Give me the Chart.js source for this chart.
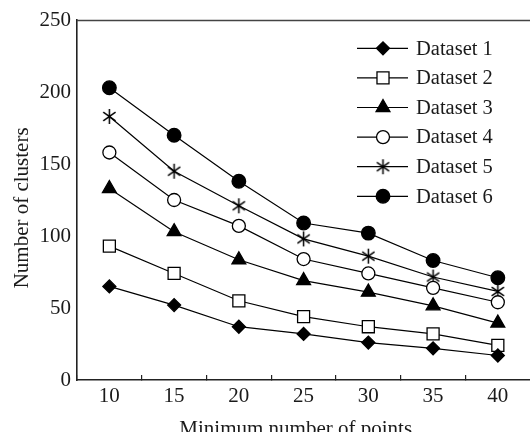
<!DOCTYPE html>
<html>
<head>
<meta charset="utf-8">
<script src="https://cdn.jsdelivr.net/npm/chart.js@4/dist/chart.umd.min.js"></script>
<style>
  html, body { margin: 0; padding: 0; background: #fff; }
  #wrap { width: 530px; height: 432px; overflow: hidden; position: relative; }
  #c { display: block; }
</style>
</head>
<body>
<div id="wrap"><canvas id="c" width="540" height="440"></canvas></div>
<script>
// ---- data ----
const minPoints = ['10', '15', '20', '25', '30', '35', '40'];
const seriesNames = ['Dataset 1', 'Dataset 2', 'Dataset 3', 'Dataset 4', 'Dataset 5', 'Dataset 6'];
const dataset1 = [65, 52, 37, 32, 26, 22, 17];
const dataset2 = [93, 74, 55, 44, 37, 32, 24];
const dataset3 = [133, 103, 83.5, 69, 61, 51.5, 39.5];
const dataset4 = [158, 125, 107, 84, 74, 64, 54];
const dataset5 = [183, 145, 121, 98, 86, 71.5, 61.5];
const dataset6 = [203, 170, 138, 109, 102, 83, 71];
const yTicks = [0, 50, 100, 150, 200, 250];

const SERIF = "'Liberation Serif', 'Times New Roman', Times, serif";

// asterisk marker (vertical + two diagonals)
function makeStar(size) {
  const cv = document.createElement('canvas');
  cv.width = size; cv.height = size;
  const g = cv.getContext('2d');
  const c = size / 2, r = size / 2 - 1;
  g.strokeStyle = '#000';
  g.lineWidth = 1.5;
  g.beginPath();
  const angs = [90, 35, 145];
  angs.forEach(a => {
    const rad = a * Math.PI / 180;
    const dx = Math.cos(rad) * r, dy = Math.sin(rad) * r;
    g.moveTo(c - dx, c - dy);
    g.lineTo(c + dx, c + dy);
  });
  g.stroke();
  return cv;
}
const starImg = makeStar(17);

const styles = [
  { pointStyle: 'rectRot', radius: 6.5, fill: '#000' },
  { pointStyle: 'rect', radius: 8.5, fill: '#fff' },
  { pointStyle: 'triangle', radius: 8, fill: '#000' },
  { pointStyle: 'circle', radius: 6.5, fill: '#fff' },
  { pointStyle: starImg, radius: 7, fill: '#000' },
  { pointStyle: 'circle', radius: 6.8, fill: '#000' }
];
const seriesValues = [dataset1, dataset2, dataset3, dataset4, dataset5, dataset6];

const datasets = seriesValues.map((vals, i) => ({
  label: seriesNames[i],
  data: vals,
  borderColor: '#000',
  borderWidth: 1.2,
  pointStyle: styles[i].pointStyle,
  pointRadius: styles[i].radius,
  pointHoverRadius: styles[i].radius,
  pointBackgroundColor: styles[i].fill,
  pointBorderColor: '#000',
  pointBorderWidth: 1.3,
  tension: 0,
  fill: false
}));

function drawMarker(ctx, st, x, y) {
  const H = Chart.helpers;
  ctx.save();
  ctx.fillStyle = st.fill;
  ctx.strokeStyle = '#000';
  ctx.lineWidth = 1.3;
  if (H && H.drawPoint) {
    H.drawPoint(ctx, { pointStyle: st.pointStyle, radius: st.radius, rotation: 0, borderWidth: 1.3 }, x, y);
  } else {
    ctx.beginPath();
    ctx.arc(x, y, st.radius, 0, Math.PI * 2);
    ctx.fill(); ctx.stroke();
  }
  ctx.restore();
}

const framePlugin = {
  id: 'frame',
  beforeDatasetsDraw(chart) {
    const { ctx, chartArea } = chart;
    ctx.save();
    ctx.strokeStyle = '#444';
    ctx.lineWidth = 1.5;
    ctx.beginPath();
    ctx.moveTo(chartArea.left, chartArea.top + 0.5);
    ctx.lineTo(chartArea.right, chartArea.top + 0.5);
    ctx.stroke();
    ctx.restore();
  }
};

const legendPlugin = {
  id: 'insideLegend',
  afterDatasetsDraw(chart) {
    const { ctx } = chart;
    const x0 = 357, x1 = 408, xm = 383, xt = 416, y0 = 48.3, dy = 29.6;
    ctx.save();
    chart.data.datasets.forEach((ds, i) => {
      const y = y0 + i * dy;
      ctx.strokeStyle = '#000';
      ctx.lineWidth = 1.2;
      ctx.beginPath();
      ctx.moveTo(x0, y); ctx.lineTo(x1, y);
      ctx.stroke();
      drawMarker(ctx, styles[i], xm, y);
      ctx.fillStyle = '#1a1a1a';
      ctx.font = '20.5px ' + SERIF;
      ctx.textAlign = 'left';
      ctx.textBaseline = 'middle';
      ctx.fillText(ds.label, xt, y + 1);
    });
    ctx.restore();
  }
};

new Chart(document.getElementById('c'), {
  type: 'line',
  data: { labels: minPoints, datasets },
  plugins: [framePlugin, legendPlugin],
  options: {
    responsive: false,
    devicePixelRatio: 1,
    animation: false,
    events: [],
    layout: { padding: { top: 20, right: 2, left: 0, bottom: 0 } },
    plugins: { legend: { display: false }, tooltip: { enabled: false } },
    scales: {
      x: {
        type: 'category',
        offset: true,
        grid: {
          display: true,
          offset: true,
          drawOnChartArea: false,
          drawTicks: true,
          tickLength: -5,
          color: '#222',
          lineWidth: 1.2
        },
        border: { display: true, color: '#222', width: 1.6 },
        ticks: { color: '#1a1a1a', font: { family: SERIF, size: 21 }, padding: 9, maxRotation: 0, autoSkip: false },
        title: {
          display: true,
          text: 'Minimum number of points   ',
          color: '#1a1a1a',
          font: { family: SERIF, size: 21, lineHeight: 1.0 },
          padding: { top: 0, bottom: 0 }
        },
        afterFit(scale) { scale.height = 60; }
      },
      y: {
        min: 0,
        max: 250,
        afterBuildTicks(scale) { scale.ticks = yTicks.map(v => ({ value: v })); },
        grid: { display: false, drawTicks: false },
        border: { display: true, color: '#222', width: 1.6 },
        ticks: { color: '#1a1a1a', font: { family: SERIF, size: 21 }, padding: 6 },
        title: {
          display: true,
          text: 'Number of clusters   ',
          color: '#1a1a1a',
          font: { family: SERIF, size: 21, lineHeight: 1.0 },
          padding: { top: 12, bottom: 0 }
        },
        afterFit(scale) { scale.width = 77; }
      }
    }
  }
});
</script>
</body>
</html>
